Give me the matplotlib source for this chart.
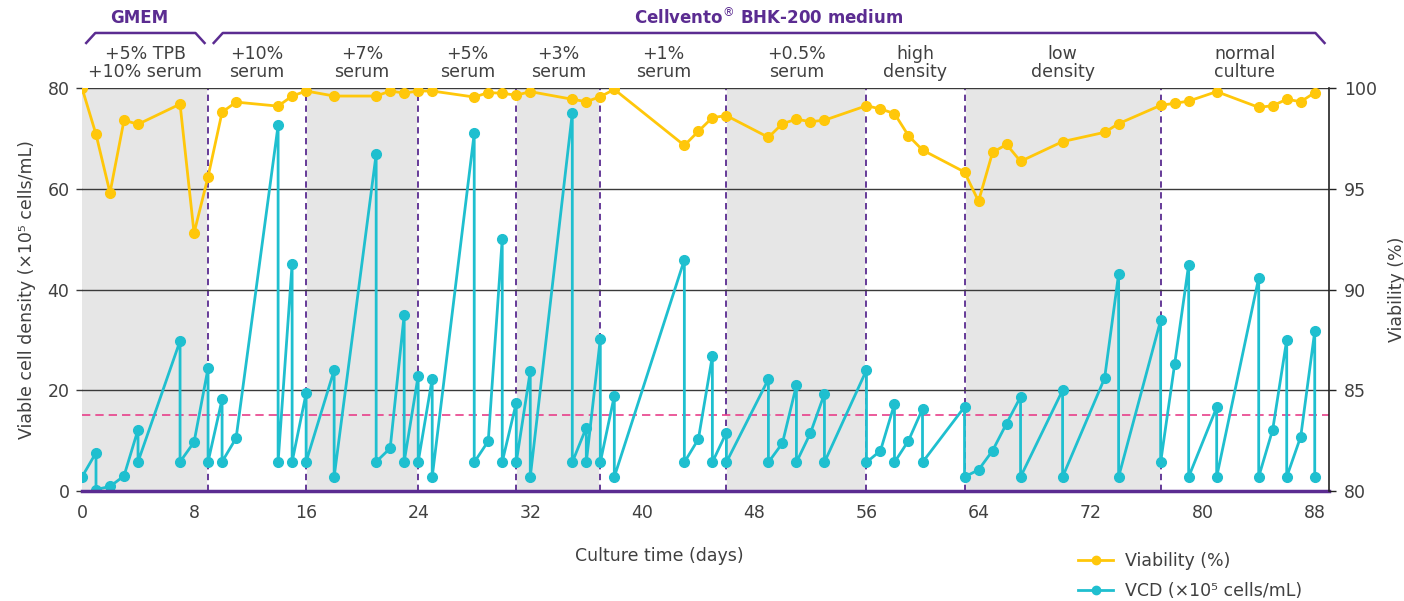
import numpy as np
import matplotlib
matplotlib.use('Agg')
from matplotlib import pyplot as plt
from matplotlib.lines import Line2D
import matplotlib.transforms as mtransforms

# viability (%) - right axis
days_v = [0, 1, 2, 3, 4, 7, 8, 9, 10, 11, 14, 15, 16, 18, 21, 22, 23, 24, 25,
          28, 29, 30, 31, 32, 35, 36, 37, 38, 43, 44, 45, 46, 49, 50, 51, 52, 53,
          56, 57, 58, 59, 60, 63, 64, 65, 66, 67, 70, 73, 74, 77, 78, 79, 81,
          84, 85, 86, 87, 88]
viab = [100, 97.7, 94.8, 98.4, 98.2, 99.2, 92.8, 95.6, 98.8, 99.3, 99.1, 99.6, 99.85, 99.6,
        99.6, 99.85, 99.75, 99.85, 99.85, 99.55, 99.77, 99.74, 99.64, 99.82, 99.44, 99.32,
        99.57, 99.93, 97.15, 97.85, 98.53, 98.63, 97.55, 98.23, 98.45, 98.33, 98.4, 99.12,
        98.96, 98.73, 97.63, 96.92, 95.83, 94.38, 96.8, 97.2, 96.36, 97.34, 97.8, 98.23,
        99.14, 99.24, 99.35, 99.82, 99.04, 99.12, 99.44, 99.32, 99.77]

# VCD (x10^5 cells/mL) - passage days appear twice (before / after split)
days_c = [0, 1, 1, 2, 3, 4, 4, 7, 7, 8, 9, 9, 10, 10, 11, 14, 14, 15, 15, 16, 16, 18, 18,
          21, 21, 22, 23, 23, 24, 24, 25, 25, 28, 28, 29, 30, 30, 31, 31, 32, 32, 35, 35,
          36, 36, 37, 37, 38, 38, 43, 43, 44, 45, 45, 46, 46, 49, 49, 50, 51, 51, 52, 53,
          53, 56, 56, 57, 58, 58, 59, 60, 60, 63, 63, 64, 65, 66, 67, 67, 70, 70, 73, 74,
          74, 77, 77, 78, 79, 79, 81, 81, 84, 84, 85, 86, 86, 87, 88, 88]
vcd = [2.8, 7.6, 0.3, 0.9, 3.0, 12.2, 5.8, 29.8, 5.8, 9.7, 24.4, 5.8, 18.2, 5.8, 10.5,
       72.6, 5.8, 45.1, 5.8, 19.4, 5.8, 24.0, 2.8, 66.9, 5.8, 8.5, 35.0, 5.8, 22.9, 5.8,
       22.3, 2.8, 71.0, 5.7, 9.9, 50.1, 5.8, 17.5, 5.7, 23.8, 2.8, 75.0, 5.7, 12.6, 5.7,
       30.2, 5.7, 18.9, 2.8, 45.9, 5.7, 10.3, 26.8, 5.7, 11.6, 5.7, 22.2, 5.7, 9.5, 21.0,
       5.7, 11.5, 19.3, 5.7, 24.0, 5.7, 8.0, 17.3, 5.7, 10.0, 16.3, 5.7, 16.7, 2.8, 4.2,
       8.0, 13.4, 18.7, 2.8, 20.0, 2.8, 22.4, 43.1, 2.8, 33.9, 5.7, 25.2, 44.9, 2.8, 16.6,
       2.8, 42.3, 2.8, 12.2, 30.0, 2.8, 10.8, 31.7, 2.8]

# phases
phase_edges = [0, 9, 16, 24, 31, 37, 46, 56, 63, 77, 89]
phase_labels = ['+5% TPB\n+10% serum', '+10%\nserum', '+7%\nserum', '+5%\nserum', '+3%\nserum',
                '+1%\nserum', '+0.5%\nserum', 'high\ndensity', 'low\ndensity', 'normal\nculture']
shaded = [0, 2, 4, 6, 8]
threshold = 15

gold = '#FFC70A'
cyan = '#1FBFCF'
purple = '#5B2C91'
txt = '#404040'

plt.rcParams['font.family'] = 'DejaVu Sans'
plt.rcParams['font.size'] = 12.5

fig = plt.figure(figsize=(14.04, 6.01), dpi=100)
ax = fig.add_axes([0.0584, 0.183, 0.888, 0.6706])

for i in shaded:
    ax.axvspan(phase_edges[i], phase_edges[i + 1], color='#E6E6E6', lw=0, zorder=0)
for x in phase_edges[1:-1]:
    ax.axvline(x, color=purple, lw=1.3, ls=(0, (3.5, 2.5)), gapcolor='white', zorder=1)
for y in [20, 40, 60, 80]:
    ax.axhline(y, color='#3a3a3a', lw=1.0, zorder=1)
ax.axhline(threshold, color='#E8408A', lw=1.2, ls=(0, (5, 3)), zorder=1)

ax.plot(days_c, vcd, color=cyan, lw=2.0, marker='o', ms=7, zorder=3)

ax.set_xlim(0, 89)
ax.set_ylim(0, 80)
ax.set_xticks(np.arange(0, 89, 8))
ax.set_yticks([0, 20, 40, 60, 80])
ax.tick_params(axis='x', length=0, pad=9, colors=txt, labelsize=12.5)
ax.tick_params(axis='y', length=4, width=1, color='#3a3a3a', colors=txt, labelsize=12.5, pad=5)
for s in ['left', 'top', 'right']:
    ax.spines[s].set_visible(False)
ax.spines['bottom'].set_color(purple)
ax.spines['bottom'].set_linewidth(2.5)
ax.spines['bottom'].set_zorder(5)
ax.set_ylabel('Viable cell density (×10⁵ cells/mL)', color=txt, fontsize=12.5, labelpad=8)
ax.set_xlabel('Culture time (days)', color=txt, fontsize=12.5)
ax.xaxis.set_label_coords(0.463, -0.14)

ax2 = ax.twinx()
ax2.plot(days_v, viab, color=gold, lw=2.0, marker='o', ms=7, zorder=3)
ax2.set_ylim(80, 100)
ax2.set_yticks([80, 85, 90, 95, 100])
ax2.tick_params(axis='y', length=5, width=1, color='#222222', colors=txt, labelsize=12.5, pad=6)
for s in ['left', 'top', 'bottom']:
    ax2.spines[s].set_visible(False)
ax2.spines['right'].set_color('#222222')
ax2.spines['right'].set_linewidth(1.2)
ax2.set_ylabel('Viability (%)', color=txt, fontsize=12.5)
ax2.yaxis.set_label_coords(1.0475, 0.5)

# phase labels above plot
trans = mtransforms.blended_transform_factory(ax.transData, ax.transAxes)
for i, lab in enumerate(phase_labels):
    xc = (phase_edges[i] + phase_edges[i + 1]) / 2
    ax.text(xc, 1.062, lab, transform=trans, ha='center', va='center', color=txt,
            fontsize=12.5, linespacing=1.0)

# medium brackets
def bracket(x0, x1, label, lx):
    y0, y1 = 1.1117, 1.1365
    ax.add_line(Line2D([x0, x0 + 0.65, x1 - 0.65, x1], [y0, y1, y1, y0], transform=trans,
                       color=purple, lw=1.8, clip_on=False))
    ax.text(lx, 1.174, label, transform=trans, ha='center', va='center', color=purple,
            fontsize=12, fontweight='bold')

bracket(0.3, 8.75, 'GMEM', 4.1)
bracket(9.4, 88.7, 'Cellvento$^{®}$ BHK-200 medium', 49.0)

handles = [Line2D([], [], color=gold, lw=2.0, marker='o', ms=6),
           Line2D([], [], color=cyan, lw=2.0, marker='o', ms=6)]
leg = fig.legend(handles, ['Viability (%)', 'VCD (×10⁵ cells/mL)'], loc='upper left',
                 bbox_to_anchor=(0.757, 0.107), frameon=False, fontsize=12.5,
                 handlelength=2.0, labelspacing=0.7, handletextpad=0.7)
for t in leg.get_texts():
    t.set_color(txt)

fig.savefig('out.png', dpi=100)
